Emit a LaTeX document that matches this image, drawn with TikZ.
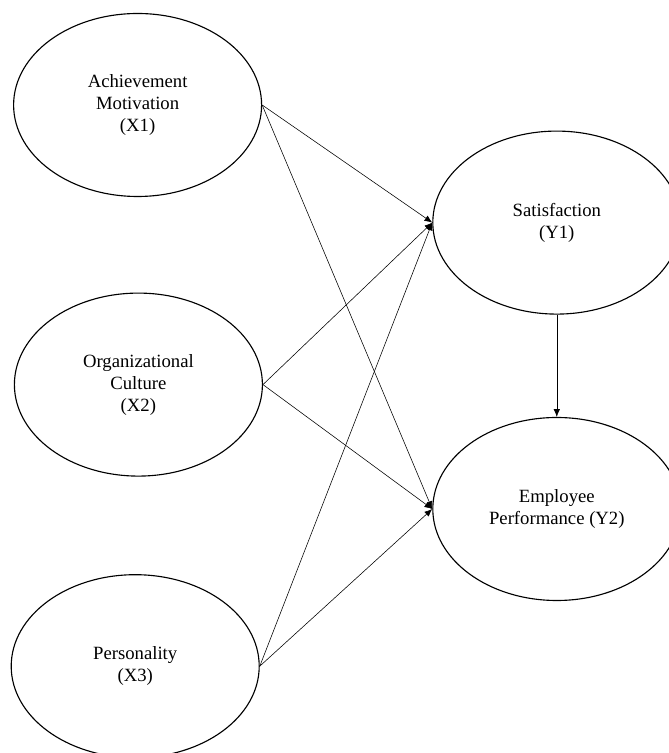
\documentclass[tikz,border=0pt]{standalone}
\usepackage{fontspec}
\setmainfont{Liberation Serif}
\usepackage{tikz}
\usetikzlibrary{shapes.geometric, arrows.meta}

\begin{document}
\begin{tikzpicture}[
    var/.style={ellipse, draw, line width=0.8pt, minimum width=6.2cm, minimum height=4.575cm,
        inner sep=0pt, align=center, font=\fontsize{13.3}{15.6}\selectfont},
    link/.style={-{Latex[length=5.5pt,width=4.5pt]}, line width=0.4pt}
]

    \useasboundingbox (0,0) rectangle (16.7,18.825);

    % Independent variables
    \node[var] (x1) at (3.44,16.2) {Achievement\\Motivation\\(X1)};
    \node[var] (x2) at (3.46,9.21) {Organizational\\Culture\\(X2)};
    \node[var] (x3) at (3.38,2.17) {Personality\\(X3)};

    % Dependent variables
    \node[var] (y1) at (13.92,13.26) {Satisfaction\\(Y1)};
    \node[var] (y2) at (13.92,6.1) {Employee\\Performance (Y2)};

    % Paths
    \foreach \x in {x1,x2,x3} {
        \draw[link] (\x.east) -- (y1.west);
        \draw[link] (\x.east) -- (y2.west);
    }
    \draw[link] (y1.south) -- (y2.north);
\end{tikzpicture}
\end{document}
